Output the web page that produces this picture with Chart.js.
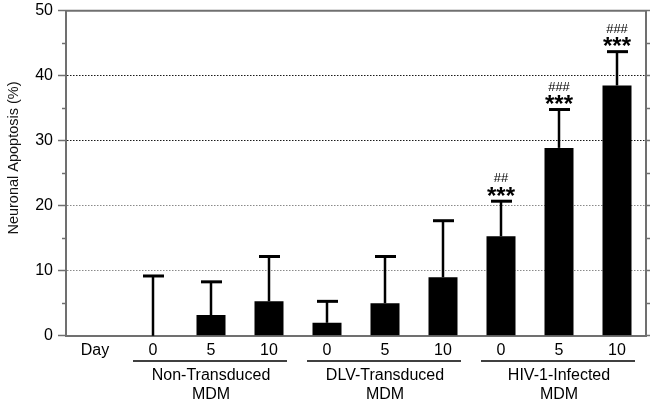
<!DOCTYPE html>
<html>
<head>
<meta charset="utf-8">
<script src="https://cdn.jsdelivr.net/npm/chart.js@4"></script>
<style>
  html, body { margin: 0; padding: 0; background: #fff; }
</style>
</head>
<body>
<canvas id="grafico" width="662" height="404"></canvas>
<script>
// Valores (media y desviacion hacia arriba)
const etiquetaDia = 'Day';
const dias = ['0', '5', '10', '0', '5', '10', '0', '5', '10'];
const grupos = [['Non-Transduced', 'MDM'], ['DLV-Transduced', 'MDM'], ['HIV-1-Infected', 'MDM']];
const apoptosis = [0, 3.2, 5.3, 2.0, 5.0, 9.0, 15.3, 28.9, 38.5];
const errorSup = [9.2, 5.1, 6.9, 3.3, 7.2, 8.7, 5.4, 5.9, 5.2];
const marcaEstrella = ['', '', '', '', '', '', '***', '***', '***'];
const marcaAlmohadilla = ['', '', '', '', '', '', '##', '###', '###'];
const yMax = 50, yPaso = 5;
const tituloY = 'Neuronal Apoptosis (%)';

const FUENTE = '"Liberation Sans", Arial, Helvetica, sans-serif';
const gris = '#707070';

/** Dibuja barras de error, marcas, ticks menores, borde superior, grupos y titulo Y */
const pluginExtras = {
    id: 'extras',
    afterDatasetsDraw(chart) {
        const { ctx, chartArea: a, scales: { x, y } } = chart;
        ctx.save();

        // borde superior y ticks menores del eje izquierdo
        ctx.strokeStyle = gris; ctx.lineWidth = 2;
        ctx.beginPath(); ctx.moveTo(a.left - 1, a.top); ctx.lineTo(a.right + 1, a.top); ctx.stroke();
        ctx.lineWidth = 1.5;
        for (let v = yPaso; v < yMax; v += 2 * yPaso) {
            const py = Math.round(y.getPixelForValue(v)) + 0.5;
            ctx.beginPath(); ctx.moveTo(a.left - 4, py); ctx.lineTo(a.left, py); ctx.stroke();
        }

        // barras de error solo hacia arriba
        ctx.strokeStyle = '#000'; ctx.fillStyle = '#000';
        apoptosis.forEach((v, i) => {
            const px = x.getPixelForValue(i + 1);
            const y0 = y.getPixelForValue(v), y1 = y.getPixelForValue(v + errorSup[i]);
            ctx.lineWidth = 2.5;
            ctx.beginPath(); ctx.moveTo(px, y0); ctx.lineTo(px, y1); ctx.stroke();
            ctx.lineWidth = 3;
            ctx.beginPath(); ctx.moveTo(px - 10, y1); ctx.lineTo(px + 11, y1); ctx.stroke();

            ctx.textAlign = 'center'; ctx.textBaseline = 'alphabetic';
            if (marcaEstrella[i]) {
                ctx.font = `bold 24px ${FUENTE}`;
                ctx.fillText(marcaEstrella[i], px, y1 + 2.5);
            }
            if (marcaAlmohadilla[i]) {
                ctx.font = `13px ${FUENTE}`;
                ctx.fillText(marcaAlmohadilla[i], px, y1 - 19);
            }
        });

        // lineas y nombres de grupo bajo el eje X
        ctx.font = `16px ${FUENTE}`; ctx.textBaseline = 'middle'; ctx.textAlign = 'center';
        ctx.lineWidth = 1.5;
        grupos.forEach((g, k) => {
            const x1 = x.getPixelForValue(1 + 3 * k) - 20, x2 = x.getPixelForValue(3 + 3 * k) + 18;
            ctx.beginPath(); ctx.moveTo(x1, 361); ctx.lineTo(x2, 361); ctx.stroke();
            const cx = x.getPixelForValue(2 + 3 * k);
            ctx.fillText(g[0], cx, 376);
            ctx.fillText(g[1], cx, 395);
        });

        // titulo del eje Y
        ctx.translate(14, 158); ctx.rotate(-Math.PI / 2);
        ctx.font = `14.5px ${FUENTE}`; ctx.fillStyle = '#111';
        ctx.fillText(tituloY, 0, 0);
        ctx.restore();
    }
};

const colorRejilla = (c) => {
    const v = c.tick ? c.tick.value : -1;
    if (v === 30 || v === 40) return '#1a1a1a';
    if (v === 10 || v === 20) return '#8a8a8a';
    return 'rgba(0,0,0,0)';
};

new Chart(document.getElementById('grafico'), {
    type: 'bar',
    data: {
        labels: [etiquetaDia, ...dias],
        datasets: [{
            data: [null, ...apoptosis],
            backgroundColor: '#000', borderWidth: 0,
            barPercentage: 0.5, categoryPercentage: 1
        }]
    },
    options: {
        responsive: false, animation: false,
        layout: { padding: { top: 10.7, bottom: 38, left: 0, right: 0 } },
        plugins: { legend: { display: false }, tooltip: { enabled: false } },
        scales: {
            x: {
                offset: true,
                grid: { display: false, drawTicks: false },
                border: { display: true, color: gris, width: 2 },
                ticks: { color: '#000', font: { size: 16, family: FUENTE }, padding: 5.5, maxRotation: 0, autoSkip: false }
            },
            y: {
                min: 0, max: yMax,
                ticks: { stepSize: yPaso, callback: v => v % 10 === 0 ? v : '', color: '#000', font: { size: 16, family: FUENTE }, padding: 5 },
                grid: { color: colorRejilla, lineWidth: 1, tickLength: 8, tickWidth: 1.5,
                        tickColor: c => (c.tick && c.tick.value % 10 === 0) ? gris : 'rgba(0,0,0,0)' },
                border: { color: gris, width: 2, dash: c => c.type === 'tick' ? [1.5, 1.5] : [] },
                afterFit: s => { s.width = 66; s.paddingTop = 0; s.paddingBottom = 0; }
            },
            y2: {
                position: 'right', min: 0, max: yMax,
                ticks: { display: false, stepSize: yPaso },
                grid: { drawOnChartArea: false, tickLength: 4, tickWidth: 1.5, tickColor: gris },
                border: { color: gris, width: 2 },
                afterFit: s => { s.width = 16; }
            }
        }
    },
    plugins: [pluginExtras]
});
</script>
</body>
</html>
